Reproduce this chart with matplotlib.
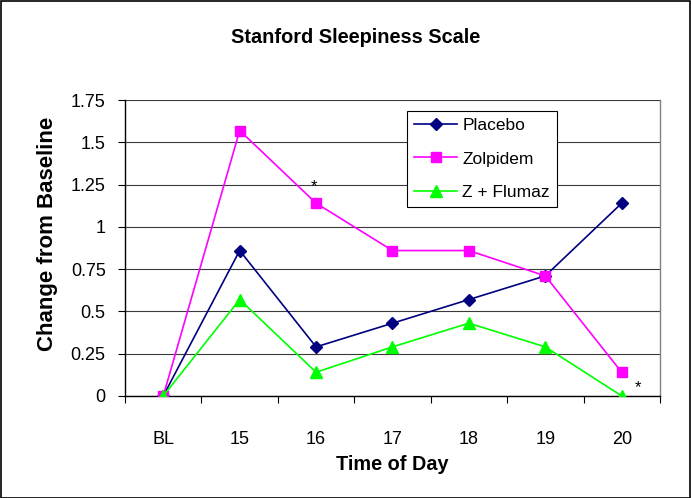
import matplotlib
matplotlib.use("Agg")
import matplotlib.pyplot as plt
from matplotlib.patches import Rectangle

categories = ["BL", "15", "16", "17", "18", "19", "20"]
placebo = [0, 0.86, 0.29, 0.43, 0.57, 0.71, 1.14]
zolpidem = [0, 1.57, 1.14, 0.86, 0.86, 0.71, 0.14]
zflumaz = [0, 0.57, 0.14, 0.29, 0.43, 0.29, 0]
yticks = [0, 0.25, 0.5, 0.75, 1, 1.25, 1.5, 1.75]
ytick_labels = ["0", "0.25", "0.5", "0.75", "1", "1.25", "1.5", "1.75"]

plt.rcParams['font.family'] = ['Liberation Sans', 'DejaVu Sans']

fig = plt.figure(figsize=(6.91, 4.98), dpi=100)
ax = fig.add_axes([0.181, 0.205, 0.774, 0.594])

x = list(range(len(categories)))
ax.plot(x, placebo, color="#000080", marker="D", markersize=6.5, lw=1.2, label="Placebo", zorder=3)
ax.plot(x, zolpidem, color="#FF00FF", marker="s", markersize=7.5, lw=1.2, label="Zolpidem", zorder=3)
ax.plot(x, zflumaz, color="#00FF00", marker="^", markersize=9, lw=1.2, label="Z + Flumaz", zorder=4)

ax.set_xlim(-0.5, len(categories) - 0.5)
ax.set_ylim(0, 1.75)
ax.set_yticks(yticks)
ax.set_yticklabels(ytick_labels, fontsize=13)
ax.set_xticks(x)
ax.set_xticklabels(categories, fontsize=13)
ax.tick_params(axis='x', length=0, pad=25)
ax.set_xticks([i - 0.5 for i in range(len(categories) + 1)], minor=True)
ax.tick_params(axis='x', which='minor', length=5, direction='out', width=0.8)
ax.tick_params(axis='y', length=5, direction='out', width=0.8, pad=9)

ax.grid(axis='y', color="#3a3a3a", lw=0.8, zorder=0)
ax.set_axisbelow(True)
for s in ["left", "bottom"]:
    ax.spines[s].set_color("black")
    ax.spines[s].set_linewidth(1.0)
ax.spines["right"].set_color("#808080")
ax.spines["top"].set_visible(False)
ax.spines["right"].set_linewidth(1.0)

ax.text(1.97, 1.14 + 0.055, "*", ha="center", va="bottom", fontsize=12)
ax.text(6.17, 0.005, "*", ha="left", va="bottom", fontsize=12)

ax.set_xlabel("Time of Day", fontsize=14.3, fontweight="bold", labelpad=5.5)
ax.set_ylabel("Change from Baseline", fontsize=16, fontweight="bold")
ax.yaxis.set_label_coords(-0.126, 0.549)
fig.text(0.515, 0.924, "Stanford Sleepiness Scale", ha="center", va="center",
         fontsize=14.3, fontweight="bold")

leg = ax.legend(loc="upper left", bbox_to_anchor=(0.527, 0.963), fontsize=12.5,
                frameon=True, fancybox=False, edgecolor="black", framealpha=1,
                borderpad=0.4, handlelength=2.5, labelspacing=1.05, handletextpad=0.3,
                borderaxespad=0)
leg.get_frame().set_linewidth(0.8)

fig.patches.append(Rectangle((0.001, 0.001), 0.997, 0.997, transform=fig.transFigure,
                             fill=False, edgecolor="black", lw=1.2))

fig.savefig("out.png", dpi=100)
